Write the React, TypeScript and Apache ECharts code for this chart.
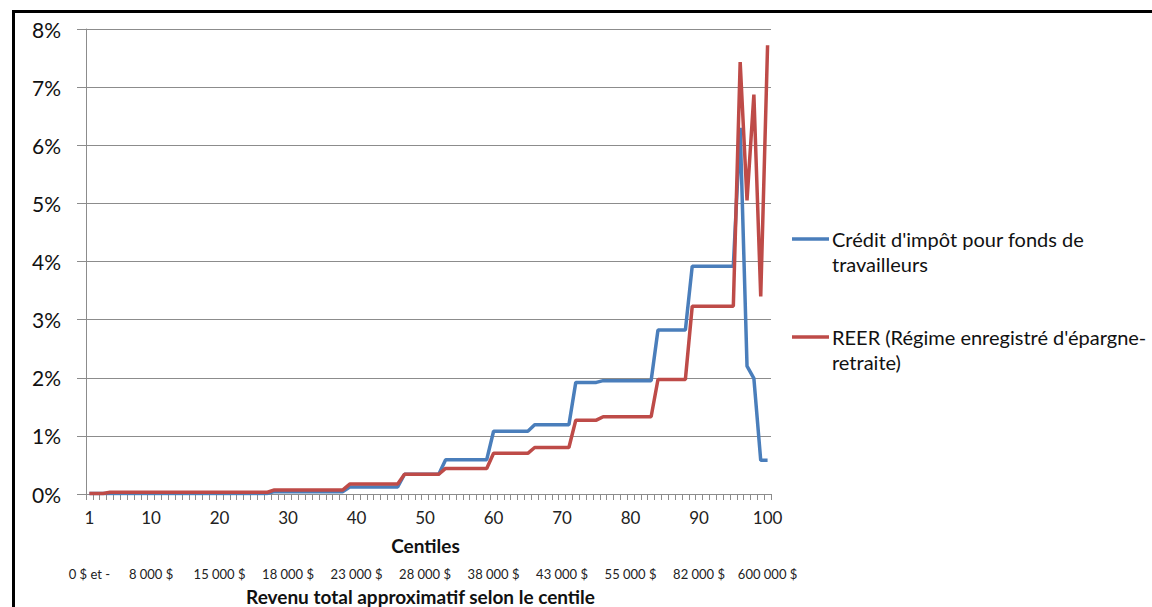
import React, { useEffect, useRef } from "react";
import * as echarts from "echarts";

const centiles: string[] = [
  "1","2","3","4","5","6","7","8","9","10",
  "11","12","13","14","15","16","17","18","19","20",
  "21","22","23","24","25","26","27","28","29","30",
  "31","32","33","34","35","36","37","38","39","40",
  "41","42","43","44","45","46","47","48","49","50",
  "51","52","53","54","55","56","57","58","59","60",
  "61","62","63","64","65","66","67","68","69","70",
  "71","72","73","74","75","76","77","78","79","80",
  "81","82","83","84","85","86","87","88","89","90",
  "91","92","93","94","95","96","97","98","99","100",
];

// Crédit d'impôt pour fonds de travailleurs (% of income)
const fondsTravailleurs: number[] = [
  0.01,0.01,0.01,0.01,0.01,0.01,0.01,0.01,0.01,0.01,
  0.01,0.01,0.01,0.01,0.01,0.01,0.01,0.01,0.01,0.01,
  0.01,0.01,0.01,0.01,0.01,0.01,0.01,0.04,0.04,0.04,
  0.04,0.04,0.04,0.04,0.04,0.04,0.04,0.04,0.12,0.12,
  0.12,0.12,0.12,0.12,0.12,0.12,0.34,0.34,0.34,0.34,
  0.34,0.34,0.59,0.59,0.59,0.59,0.59,0.59,0.59,1.08,
  1.08,1.08,1.08,1.08,1.08,1.19,1.19,1.19,1.19,1.19,
  1.19,1.92,1.92,1.92,1.92,1.95,1.95,1.95,1.95,1.95,
  1.95,1.95,1.95,2.82,2.82,2.82,2.82,2.82,3.92,3.92,
  3.92,3.92,3.92,3.92,3.92,6.3,2.2,1.99,0.58,0.58,
];

// REER (Régime enregistré d'épargne-retraite)
const reer: number[] = [
  0.01,0.01,0.01,0.03,0.03,0.03,0.03,0.03,0.03,0.03,
  0.03,0.03,0.03,0.03,0.03,0.03,0.03,0.03,0.03,0.03,
  0.03,0.03,0.03,0.03,0.03,0.03,0.03,0.07,0.07,0.07,
  0.07,0.07,0.07,0.07,0.07,0.07,0.07,0.07,0.17,0.17,
  0.17,0.17,0.17,0.17,0.17,0.17,0.34,0.34,0.34,0.34,
  0.34,0.34,0.44,0.44,0.44,0.44,0.44,0.44,0.44,0.70,
  0.70,0.70,0.70,0.70,0.70,0.80,0.80,0.80,0.80,0.80,
  0.80,1.27,1.27,1.27,1.27,1.33,1.33,1.33,1.33,1.33,
  1.33,1.33,1.33,1.97,1.97,1.97,1.97,1.97,3.23,3.23,
  3.23,3.23,3.23,3.23,3.23,7.43,5.05,6.87,3.40,7.72,
];

const labelledCentiles: number[] = [1, 10, 20, 30, 40, 50, 60, 70, 80, 90, 100];
const revenuLabels: string[] = [
  "0 $ et -", "8 000 $", "15 000 $", "18 000 $", "23 000 $", "28 000 $",
  "38 000 $", "43 000 $", "55 000 $", "82 000 $", "600 000 $",
];
const yTicks: number[] = [0, 1, 2, 3, 4, 5, 6, 7, 8];

const seriesNames = [
  "Crédit d'impôt pour fonds de travailleurs",
  "REER (Régime enregistré d'épargne-retraite)",
];
const legendLines = [
  ["Crédit d'impôt pour fonds de", "travailleurs"],
  ["REER (Régime enregistré d'épargne-", "retraite)"],
];
const BLUE = "#4A7EBB";
const RED = "#BE4B48";
const GRID = "#8C8C8C";
const FONT = "Lato, 'Open Sans', sans-serif";

export default function App() {
  const ref = useRef<HTMLDivElement>(null);
  useEffect(() => {
    if (!ref.current) return;
    const chart = echarts.init(ref.current, undefined, { renderer: "svg" });
    const showLabel = (index: number) => labelledCentiles.indexOf(index + 1) >= 0;
    const legendY = [239, 337];
    const colors = [BLUE, RED];
    const legendGraphics: any[] = [];
    legendLines.forEach((lines, k) => {
      legendGraphics.push({
        type: "line",
        shape: { x1: 792, y1: legendY[k], x2: 829, y2: legendY[k] },
        style: { stroke: colors[k], lineWidth: 3.5 },
      });
      lines.forEach((t, j) => {
        legendGraphics.push({
          type: "text",
          x: 832,
          y: legendY[k] + j * 25,
          style: {
            text: t,
            fill: "#111",
            font: `20px ${FONT}`,
            verticalAlign: "middle",
          },
        });
      });
    });

    chart.setOption({
      animation: false,
      backgroundColor: "#fff",
      grid: {
        left: 86, right: 381, top: 29, bottom: 113,
        containLabel: false, outerBoundsMode: "none",
      },
      xAxis: [
        {
          type: "category",
          data: centiles,
          boundaryGap: true,
          position: "bottom",
          name: "Centiles",
          nameLocation: "middle",
          nameGap: 42,
          nameTextStyle: {
            fontFamily: FONT, fontSize: 19, fontWeight: "bold", color: "#111",
            padding: [0, 6, 0, 0],
          },
          axisLine: { show: true, lineStyle: { color: GRID, width: 1 } },
          axisTick: { show: true, interval: 0, length: 6, lineStyle: { color: GRID } },
          axisLabel: {
            interval: (index: number) => showLabel(index),
            margin: 15,
            fontFamily: FONT,
            fontSize: 17,
            color: "#222",
          },
          splitLine: { show: false },
        },
        {
          type: "category",
          data: centiles,
          boundaryGap: true,
          position: "bottom",
          name: "Revenu total approximatif selon le centile",
          nameLocation: "middle",
          nameGap: 93,
          nameTextStyle: {
            fontFamily: FONT, fontSize: 19, fontWeight: "bold", color: "#111",
            padding: [0, 16, 0, 0],
          },
          axisLine: { show: false },
          axisTick: { show: false },
          axisLabel: {
            interval: (index: number) => showLabel(index),
            formatter: (_v: string, index: number) =>
              revenuLabels[labelledCentiles.indexOf(index + 1)] ?? "",
            margin: 73,
            fontFamily: FONT,
            fontSize: 13,
            color: "#222",
          },
          splitLine: { show: false },
        },
      ],
      yAxis: {
        type: "value",
        min: yTicks[0],
        max: yTicks[yTicks.length - 1],
        interval: 1,
        axisLine: { show: true, lineStyle: { color: GRID, width: 1 } },
        axisTick: { show: true, length: 9, lineStyle: { color: GRID } },
        axisLabel: {
          formatter: "{value}%",
          margin: 25,
          fontFamily: FONT,
          fontSize: 21,
          color: "#111",
        },
        splitLine: { show: true, lineStyle: { color: GRID, width: 1 } },
      },
      series: [
        {
          name: seriesNames[0],
          type: "line",
          data: fondsTravailleurs,
          symbol: "none",
          lineStyle: { color: BLUE, width: 3.5 },
          itemStyle: { color: BLUE },
          z: 2,
        },
        {
          name: seriesNames[1],
          type: "line",
          data: reer,
          symbol: "none",
          lineStyle: { color: RED, width: 3.5 },
          itemStyle: { color: RED },
          z: 3,
        },
      ],
      graphic: [
        {
          type: "rect",
          shape: { x: 13.5, y: 11.5, width: 1300, height: 800 },
          style: { fill: "none", stroke: "#000", lineWidth: 3 },
          silent: true,
        },
        ...legendGraphics,
      ],
    });
    return () => chart.dispose();
  }, []);
  return (
    <div
      ref={ref}
      style={{ position: "fixed", left: 0, top: 0, width: 1152, height: 607, background: "#fff" }}
    />
  );
}
